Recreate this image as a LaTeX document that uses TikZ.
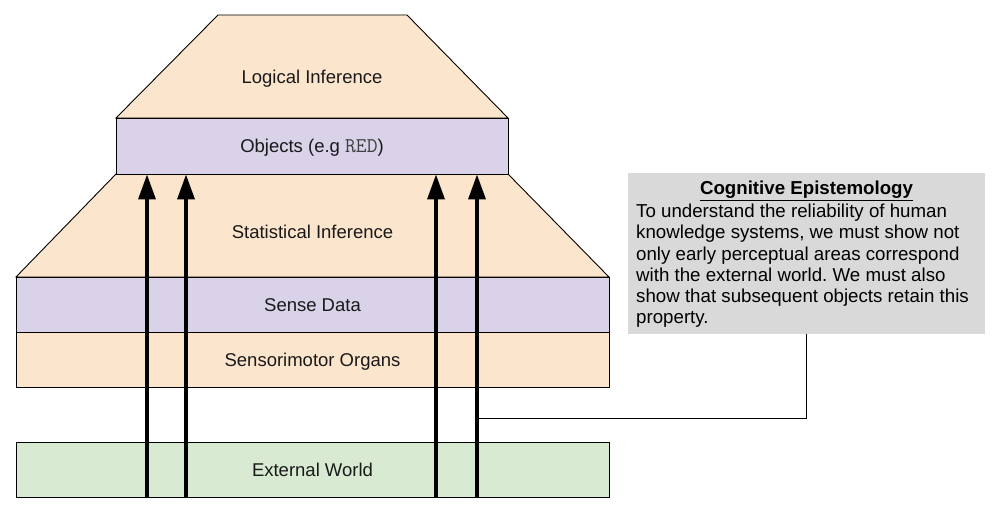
\documentclass[tikz,border=0pt]{standalone}
\usepackage{fontspec}
\setmainfont{Liberation Sans}
\usetikzlibrary{arrows.meta}
\definecolor{peach}{HTML}{FCE5CD}
\definecolor{lilac}{HTML}{D9D2E9}
\definecolor{mint}{HTML}{D9EAD3}
\definecolor{notegray}{HTML}{D9D9D9}
\frenchspacing
\begin{document}
\begin{tikzpicture}[x=1pt,y=-1pt,
  layer/.style={draw=black, line width=0.9pt},
  band/.style={layer, minimum width=593pt, minimum height=55pt, inner sep=0pt},
  lbl/.style={font=\fontsize{18.5}{21}\selectfont, text=black!90, text height=14pt, text depth=0pt},
  notefont/.style={font=\fontsize{18.7}{21.2}\selectfont\frenchspacing},
  titlefont/.style={font=\fontsize{18.7}{21.2}\selectfont\bfseries},
  up/.style={line width=3.5pt, -{Triangle[width=17pt,length=25pt]}},
  link/.style={line width=0.9pt}]
\useasboundingbox (0,0) rectangle (994,508);
% statistical inference trapezoid
\draw[layer, fill=peach] (116,174) -- (508,174) -- (609,277) -- (16,277) -- cycle;
\node[lbl] (stat) at (312.5,231.6) {Statistical Inference};
% logical inference trapezoid
\draw[layer, fill=peach] (218,15) -- (407,15) -- (508,118) -- (116,118) -- cycle;
\node[lbl] (logic) at (312,76.5) {Logical Inference};
% objects
\node[layer, fill=lilac, minimum width=392pt, minimum height=56pt, inner sep=0pt, lbl] (obj) at (312,146) {Objects (e.g {\fontsize{21}{21}\ttfamily\color{black!75}RED})};
% bands
\node[band, fill=lilac, lbl] (sense) at (312.5,304.5) {Sense Data};
\node[band, fill=peach, lbl] (organs) at (312.5,359.5) {Sensorimotor Organs};
\node[band, fill=mint, lbl] (world) at (312.5,469.5) {External World};
% note
\node[fill=notegray, minimum width=357pt, minimum height=161pt, inner sep=0pt, anchor=north west] (note) at (628,173) {};
\node[titlefont, anchor=base] (title) at (806.5,195) {\underline{Cognitive Epistemology}};
\node[notefont, align=left, anchor=north west, inner sep=0pt] (body) at (636,204) {To understand the reliability of human\\knowledge systems, we must show not\\only early perceptual areas correspond\\with the external world. We must also\\show that subsequent objects retain this\\property.};
% arrows
\coordinate (b1) at (147,497);
\coordinate (b2) at (186,497);
\coordinate (b3) at (436,497);
\coordinate (b4) at (477,497);
\foreach \b in {b1,b2,b3,b4}
  \draw[up] (\b) -- (\b |- obj.south);
% connector
\coordinate (j) at (477,418);
\draw[link] (j) -- (j -| note.south) -- (note.south);
\end{tikzpicture}
\end{document}
